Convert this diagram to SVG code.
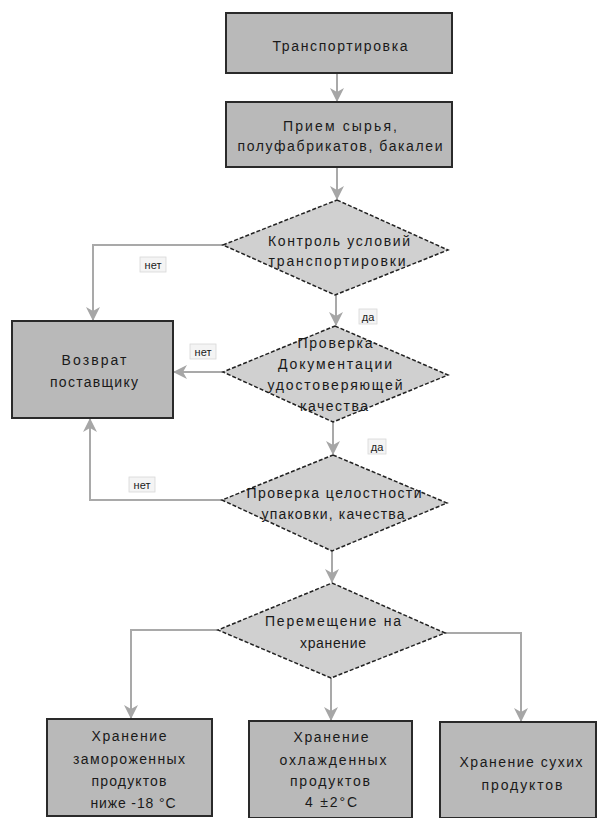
<svg xmlns="http://www.w3.org/2000/svg" width="598" height="818" viewBox="0 0 598 818">
<style>
.box{fill:#b9b9b9;stroke:#2a2a2a;stroke-width:2}
.dia{fill:#d0d0d0;stroke:#222;stroke-width:1.5;stroke-dasharray:4 2}
.t{font-family:"Liberation Sans",Arial,sans-serif;font-size:14px;fill:#1a1a1a;text-anchor:middle;dominant-baseline:central}
.lbl{font-family:"Liberation Sans",Arial,sans-serif;font-size:11px;fill:#1a1a1a;text-anchor:middle;dominant-baseline:central}
.lblbg{fill:#f4f4f4;stroke:#d8d8d8;stroke-width:0.8}
.c{fill:none;stroke:#a9a9a9;stroke-width:2}
</style>
<defs>
<marker id="ah" markerUnits="userSpaceOnUse" markerWidth="14" markerHeight="14" refX="13" refY="7" orient="auto">
<path d="M0,0 L14,7 L0,14 L4,7 z" fill="#a6a6a6"/>
</marker>
</defs>
<rect width="598" height="818" fill="#ffffff"/>
<g id="connectors">
<path class="c" d="M337,74 L337,101" marker-end="url(#ah)"/>
<path class="c" d="M337,168 L337,199" marker-end="url(#ah)"/>
<path class="c" d="M223,245 L93,245 L93,320" marker-end="url(#ah)"/>
<path class="c" d="M336,295 L336,325" marker-end="url(#ah)"/>
<path class="c" d="M223,372 L174,372" marker-end="url(#ah)"/>
<path class="c" d="M333,422 L333,454" marker-end="url(#ah)"/>
<path class="c" d="M222,500 L90,500 L90,419" marker-end="url(#ah)"/>
<path class="c" d="M332,551 L332,582" marker-end="url(#ah)"/>
<path class="c" d="M218,630 L131,630 L131,718" marker-end="url(#ah)"/>
<path class="c" d="M331,678 L331,720" marker-end="url(#ah)"/>
<path class="c" d="M445,633 L521,633 L521,721" marker-end="url(#ah)"/>
<rect class="lblbg" x="140" y="257" width="26" height="15"/>
<text class="lbl" x="153" y="265">нет</text>
<rect class="lblbg" x="190" y="344" width="26" height="15"/>
<text class="lbl" x="203" y="352">нет</text>
<rect class="lblbg" x="129" y="477" width="26" height="15"/>
<text class="lbl" x="142" y="485">нет</text>
<rect class="lblbg" x="359" y="309" width="18" height="15"/>
<text class="lbl" x="368" y="317">да</text>
<rect class="lblbg" x="368" y="439" width="18" height="15"/>
<text class="lbl" x="377" y="447">да</text>
</g>
<g id="n1">
<rect class="box" x="226" y="13" width="226" height="60"/>
<text class="t" x="340" y="46" textLength="135" lengthAdjust="spacing">Транспортировка</text>
</g>
<g id="n2">
<rect class="box" x="226" y="102" width="226" height="65"/>
<text class="t" x="340" y="126" textLength="114" lengthAdjust="spacing">Прием сырья,</text>
<text class="t" x="340" y="146" textLength="205" lengthAdjust="spacing">полуфабрикатов, бакалеи</text>
</g>
<g id="d1">
<polygon class="dia" points="337,200 448,250 335,295 223,245"/>
<text class="t" x="339" y="241" textLength="142" lengthAdjust="spacing">Контроль условий</text>
<text class="t" x="337" y="261" textLength="137" lengthAdjust="spacing">транспортировки</text>
</g>
<g id="d2">
<polygon class="dia" points="335,326 448,375 333,422 223,372"/>
<text class="t" x="335" y="343" textLength="75" lengthAdjust="spacing">Проверка</text>
<text class="t" x="335" y="364" textLength="114" lengthAdjust="spacing">Документации</text>
<text class="t" x="335" y="385" textLength="135" lengthAdjust="spacing">удостоверяющей</text>
<text class="t" x="334" y="406" textLength="68" lengthAdjust="spacing">качества</text>
</g>
<g id="d3">
<polygon class="dia" points="333,455 447,503 332,551 222,500"/>
<text class="t" x="334" y="493" textLength="175" lengthAdjust="spacing">Проверка целостности</text>
<text class="t" x="333" y="514" textLength="143" lengthAdjust="spacing">упаковки, качества</text>
</g>
<g id="d4">
<polygon class="dia" points="332,583 445,633 331,678 218,630"/>
<text class="t" x="333" y="621" textLength="136" lengthAdjust="spacing">Перемещение на</text>
<text class="t" x="333" y="643" textLength="66" lengthAdjust="spacing">хранение</text>
</g>
<g id="n3">
<rect class="box" x="12" y="321" width="161" height="97"/>
<text class="t" x="94" y="360" textLength="65" lengthAdjust="spacing">Возврат</text>
<text class="t" x="94" y="382" textLength="88" lengthAdjust="spacing">поставщику</text>
</g>
<g id="n4">
<rect class="box" x="47" y="719" width="165" height="97"/>
<text class="t" x="129" y="736" textLength="75" lengthAdjust="spacing">Хранение</text>
<text class="t" x="129" y="759" textLength="112" lengthAdjust="spacing">замороженных</text>
<text class="t" x="129" y="781" textLength="75" lengthAdjust="spacing">продуктов</text>
<text class="t" x="133" y="803" textLength="85" lengthAdjust="spacing">ниже -18 °С</text>
</g>
<g id="n5">
<rect class="box" x="249" y="721" width="163" height="97"/>
<text class="t" x="331" y="737" textLength="75" lengthAdjust="spacing">Хранение</text>
<text class="t" x="333" y="760" textLength="107" lengthAdjust="spacing">охлажденных</text>
<text class="t" x="330" y="781" textLength="80" lengthAdjust="spacing">продуктов</text>
<text class="t" x="331" y="802" textLength="52" lengthAdjust="spacing">4 ±2°С</text>
</g>
<g id="n6">
<rect class="box" x="440" y="722" width="156" height="96"/>
<text class="t" x="521" y="762" textLength="123" lengthAdjust="spacing">Хранение сухих</text>
<text class="t" x="522" y="785" textLength="81" lengthAdjust="spacing">продуктов</text>
</g>
</svg>
